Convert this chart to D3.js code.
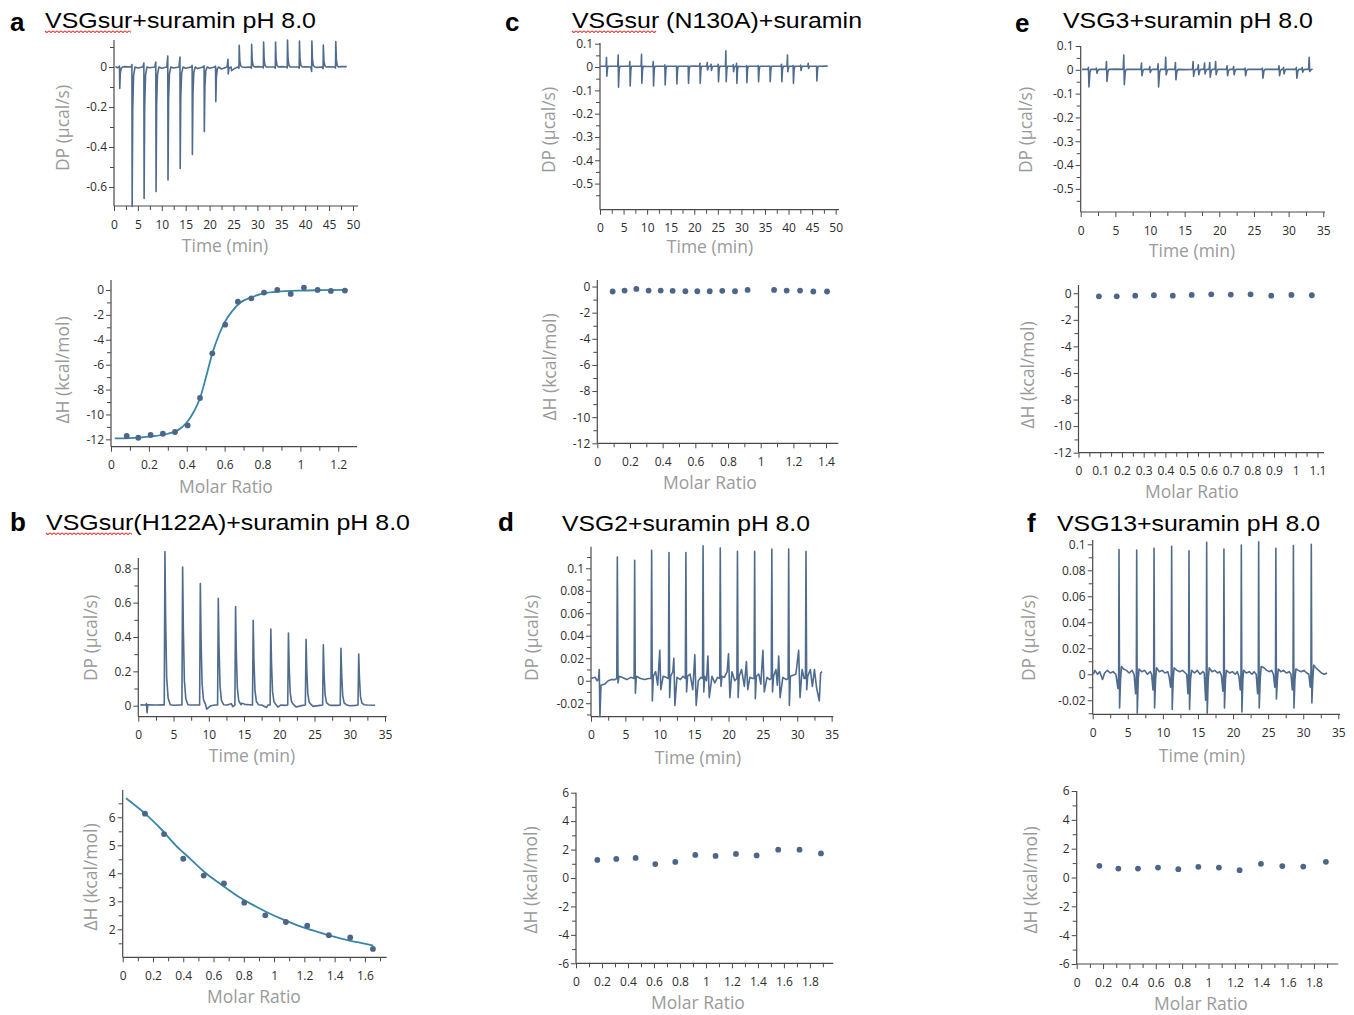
<!DOCTYPE html>
<html><head><meta charset="utf-8">
<script src="https://cdnjs.cloudflare.com/ajax/libs/d3/7.8.5/d3.min.js"></script>
<style>body{margin:0;background:#fff}svg{display:block}</style>
</head><body>
<script>
// ---------------- DATA ----------------
// Panel a : VSGsur + suramin
const aInjTime = [1.2, 3.8, 6.3, 8.8, 11.3, 13.85, 16.4, 18.9, 21.3, 23.9, 26.2, 28.8, 31.3, 33.8, 36.3, 38.8, 41.4, 43.8, 46.4];
const aInjPeak = [-0.107, -0.697, -0.657, -0.623, -0.565, -0.507, -0.437, -0.323, -0.173, -0.035, 0.108, 0.113, 0.125, 0.125, 0.135, 0.13, 0.13, 0.11, 0.127];
const aInjOver = [0.004, 0.012, 0.02, 0.025, 0.055, 0.05, 0.008, 0.006, 0.004, 0.038, -0.006, -0.006, -0.005, -0.006, -0.005, -0.006, -0.022, -0.008, -0.005];
const aBaseline = [[0.3,0.003],[0.7,-0.004],[2.2,0.002],[5,-0.005],[7.5,-0.004],[10,-0.006],[12.5,-0.005],[15,-0.006],[17.5,-0.008],[20,-0.006],[22.5,-0.01],[24.6,-0.018],[25.2,-0.008],[27.5,-0.002],[30,0.002],[32.5,0],[35,0.002],[37.5,0],[40,0.001],[42.5,-0.002],[45,0.001],[47.5,0.002],[48.7,0.002]];
const aRatio = [0.083, 0.144, 0.209, 0.274, 0.338, 0.405, 0.470, 0.535, 0.603, 0.670, 0.741, 0.808, 0.878, 0.949, 1.019, 1.091, 1.161, 1.235];
const aDH = [-11.73, -11.87, -11.65, -11.55, -11.41, -10.88, -8.68, -5.09, -2.79, -0.94, -0.67, -0.21, 0.0, -0.32, 0.19, 0.0, -0.08, -0.05];
const aFitRatio = [0.02, 0.1, 0.2, 0.3, 0.35, 0.4, 0.44, 0.47, 0.5, 0.535, 0.57, 0.6, 0.64, 0.68, 0.74, 0.8, 0.9, 1.0, 1.1, 1.25];
const aFitDH = [-11.92, -11.9, -11.78, -11.55, -11.3, -10.65, -9.7, -8.7, -7.1, -5.1, -3.6, -2.6, -1.7, -1.05, -0.6, -0.3, -0.12, -0.05, -0.02, 0];

// Panel b : VSGsur(H122A) + suramin
const bInjTime = [3.78, 6.29, 8.8, 11.35, 13.8, 16.3, 18.8, 21.3, 23.8, 26.25, 28.75, 31.27];
const bInjPeak = [0.897, 0.808, 0.711, 0.625, 0.577, 0.497, 0.447, 0.423, 0.386, 0.355, 0.334, 0.301];
const bBaseline = [[0.3,0.005],[1.0,0.004],[1.15,0.012],[1.25,-0.04],[1.35,0.006],[2.5,0.004],[3.4,0.005],[5,0.003],[5.8,0.004],[7.5,0.004],[8.3,0.004],[9.7,-0.02],[10.3,0.0],[10.9,0.004],[12.6,0.004],[13.2,0.012],[13.4,-0.005],[14.7,0.015],[15.1,0.008],[15.8,0.006],[17.5,0.004],[18.2,-0.01],[18.4,0.004],[19.8,-0.008],[20.2,0.004],[20.9,0.002],[22.4,-0.008],[23.3,0.002],[24.8,-0.004],[25.8,0.002],[27.3,0.002],[28.3,0.002],[30,0],[30.8,0.002],[32.5,0.004],[33.6,0.003]];
const bRatio = [0.147, 0.273, 0.40, 0.535, 0.669, 0.803, 0.942, 1.078, 1.219, 1.362, 1.503, 1.653];
const bDH = [6.13, 5.40, 4.52, 3.92, 3.64, 2.95, 2.50, 2.26, 2.13, 1.79, 1.71, 1.30];
const bFitRatio = [0.022, 0.15, 0.25, 0.35, 0.45, 0.55, 0.65, 0.75, 0.85, 0.95, 1.05, 1.15, 1.25, 1.35, 1.45, 1.55, 1.655];
const bFitDH = [6.68, 6.12, 5.6, 5.0, 4.5, 4.0, 3.6, 3.22, 2.9, 2.62, 2.37, 2.15, 1.97, 1.80, 1.66, 1.54, 1.42];

// Panel c : VSGsur (N130A) + suramin
const cInjTime = [1.41, 3.89, 6.36, 8.84, 11.32, 13.79, 16.27, 18.74, 21.22, 22.77, 23.6, 25.1, 26.73, 28.3, 29.0, 31.12, 33.6, 36.07, 38.54, 39.8, 41.0, 42.6, 44.2, 45.97];
const cInjUp = [0.041, 0.051, 0.023, 0.054, 0.023, 0.009, 0.004, 0.004, 0.016, 0.019, 0.012, 0.012, 0.07, 0.01, 0.016, 0.006, 0.006, 0.004, 0.012, 0.051, 0.006, 0.008, 0.016, 0.004];
const cInjDown = [-0.039, -0.087, -0.081, -0.07, -0.081, -0.077, -0.073, -0.07, -0.07, -0.013, -0.015, -0.063, -0.063, -0.02, -0.07, -0.067, -0.063, -0.063, -0.063, -0.02, -0.07, -0.015, -0.006, -0.06];
const cBaseline = [[0,0.003],[10,0.002],[20,0.004],[30,0.002],[40.6,0.003],[48.3,0.004]];
const cRatio = [0.094, 0.167, 0.239, 0.314, 0.388, 0.461, 0.539, 0.612, 0.688, 0.765, 0.843, 0.92, 1.082, 1.159, 1.241, 1.322, 1.406];
const cDH = [-0.38, -0.31, -0.18, -0.31, -0.31, -0.33, -0.36, -0.36, -0.36, -0.33, -0.36, -0.26, -0.26, -0.31, -0.31, -0.38, -0.38];

// Panel d : VSG2 + suramin
const dInjTime = [3.83, 6.35, 8.82, 11.34, 13.8, 16.3, 18.8, 21.3, 23.8, 26.3, 28.75, 31.27];
const dInjPeak = [0.110, 0.107, 0.116, 0.114, 0.114, 0.120, 0.118, 0.115, 0.115, 0.117, 0.117, 0.115];
const dInjDip = [-0.002, -0.011, -0.018, -0.015, -0.01, -0.01, -0.005, -0.015, -0.016, -0.01, -0.022, -0.008];
const dBaseline = [[0,0.002],[0.6,0.003],[0.9,0.0],[1.1,0.002],[1.2,0.01],[1.3,-0.032],[1.45,-0.004],[2,-0.003],[2.5,0.0],[3.0,0.001],[3.5,0.001],
  [4.5,0.003],[5.2,0.001],[5.8,0.003],[7.2,0.002],[7.8,0.001],[8.4,0.002],
  [9.4,0.008],[9.7,-0.004],[10.0,0.027],[10.15,-0.008],[10.5,0.004],[10.9,0.003],
  [11.9,0.008],[12.05,0.02],[12.2,-0.022],[12.5,0.003],[13.0,0.001],[13.4,0.004],
  [14.4,0.006],[14.8,-0.008],[15.1,0.023],[15.3,-0.022],[15.6,0.0],[16.0,0.003],
  [16.8,0.0],[17.0,0.022],[17.2,-0.015],[17.6,0.004],[18.0,-0.002],[18.4,0.003],
  [19.4,0.003],[19.8,0.008],[20.0,0.024],[20.2,-0.015],[20.5,0.008],[20.9,0.0],
  [21.9,0.01],[22.3,-0.005],[22.6,0.017],[22.8,-0.008],[23.1,0.003],[23.5,0.002],
  [24.4,0.006],[24.7,-0.003],[25.0,0.027],[25.2,-0.01],[25.6,0.003],[26.0,0.001],
  [26.9,0.01],[27.1,-0.004],[27.3,0.022],[27.5,-0.015],[27.9,0.003],[28.4,0.001],
  [29.5,0.005],[29.8,0.006],[30.2,0.027],[30.4,-0.015],[30.7,0.01],[31.0,0.002],
  [31.9,0.01],[32.2,-0.005],[32.5,0.01],[32.8,-0.006],[33.2,-0.018],[33.4,0.007],[33.6,0.008]];
const dRatio = [0.164, 0.31, 0.459, 0.61, 0.764, 0.918, 1.074, 1.231, 1.39, 1.556, 1.72, 1.885];
const dDH = [1.27, 1.34, 1.41, 0.98, 1.13, 1.62, 1.55, 1.69, 1.59, 1.99, 1.99, 1.73];

// Panel e : VSG3 + suramin
const eInjTime = [1.15, 2.3, 3.75, 6.25, 8.8, 10.0, 11.2, 12.3, 13.7, 16.25, 17.0, 17.9, 18.65, 19.5, 21.15, 22.1, 23.75, 26.25, 28.65, 29.3, 31.15, 32.0, 33.0];
const eInjUp = [0.01, 0.007, 0.035, 0.062, 0.028, 0.014, 0.025, 0.053, 0.031, 0.035, 0.021, 0.028, 0.031, 0.035, 0.017, 0.014, 0.007, 0.007, 0.017, 0.01, 0.01, 0.01, 0.053];
const eInjDown = [-0.072, -0.014, -0.049, -0.062, -0.025, -0.011, -0.072, -0.021, -0.042, -0.028, -0.021, -0.017, -0.031, -0.021, -0.025, -0.021, -0.025, -0.035, -0.025, -0.017, -0.035, -0.01, -0.007];
const eBaseline = [[0.2,0.002],[5,0.003],[15,0.001],[25,0.002],[33.46,0.003]];
const eRatio = [0.094, 0.176, 0.261, 0.347, 0.434, 0.521, 0.611, 0.701, 0.792, 0.887, 0.98, 1.074];
const eDH = [-0.23, -0.23, -0.18, -0.15, -0.18, -0.13, -0.08, -0.10, -0.08, -0.18, -0.13, -0.15];

// Panel f : VSG13 + suramin
const fInjTime = [3.75, 6.27, 8.74, 11.25, 13.72, 16.24, 18.7, 21.18, 23.65, 26.1, 28.6, 31.15];
const fInjPeak = [0.096, 0.0956, 0.097, 0.0985, 0.095, 0.1015, 0.0964, 0.0995, 0.102, 0.097, 0.099, 0.100];
const fInjDip = [-0.026, -0.030, -0.026, -0.027, -0.027, -0.030, -0.026, -0.029, -0.026, -0.019, -0.026, -0.022];
const fInjPre = [-0.011, -0.015, -0.012, -0.01, -0.015, -0.02, -0.013, -0.012, -0.015, -0.01, -0.012, -0.01];
const fBaseline = [[0.1,0.0],[0.3,0.003],[0.7,0.0],[1.0,0.002],[1.4,-0.004],[1.7,0.001],[2.1,0.003],[2.5,0.001],[2.9,0.002],[3.3,0.0],
  [4.1,0.006],[4.4,0.004],[4.8,0.003],[5.2,0.001],[5.6,0.003],[5.9,0.0],
  [6.6,0.004],[7.0,0.002],[7.4,0.003],[7.8,0.0],[8.2,0.002],[8.4,0.0],
  [9.1,0.005],[9.5,0.002],[9.9,0.003],[10.3,0.001],[10.7,0.002],[10.9,-0.002],
  [11.6,0.005],[12.0,0.003],[12.4,0.002],[12.8,0.003],[13.2,0.001],[13.4,0.0],
  [14.1,0.003],[14.5,0.001],[14.9,0.003],[15.3,0.0],[15.7,0.002],[15.9,0.001],
  [16.6,0.005],[17.0,0.002],[17.4,0.003],[17.8,0.001],[18.1,0.002],[18.35,-0.001],
  [19.05,0.003],[19.5,0.001],[19.9,0.002],[20.3,0.0],[20.6,0.002],[20.85,-0.002],
  [21.5,0.003],[21.9,0.001],[22.3,0.002],[22.7,0.0],[23.0,0.002],[23.3,0.0],
  [24.0,0.006],[24.4,0.005],[24.8,0.003],[25.2,0.002],[25.5,0.003],[25.75,0.0],
  [26.45,0.004],[26.8,0.002],[27.2,0.003],[27.6,0.001],[28.0,0.002],[28.25,0.0],
  [28.95,0.004],[29.3,0.003],[29.7,0.002],[30.1,0.003],[30.5,0.001],[30.8,0.0],
  [31.5,0.007],[31.8,0.005],[32.2,0.003],[32.6,0.001],[33.0,0.0],[33.4,0.001]];
const fRatio = [0.172, 0.316, 0.465, 0.617, 0.771, 0.923, 1.079, 1.236, 1.398, 1.56, 1.719, 1.891];
const fDH = [0.81, 0.62, 0.62, 0.69, 0.58, 0.74, 0.69, 0.51, 0.95, 0.79, 0.76, 1.09];

// tick label arrays
const timeTicks50 = [0, 5, 10, 15, 20, 25, 30, 35, 40, 45, 50];
const timeTicks35 = [0, 5, 10, 15, 20, 25, 30, 35];
const ratioTicks12 = [0, 0.2, 0.4, 0.6, 0.8, 1, 1.2];
const ratioTicks14 = [0, 0.2, 0.4, 0.6, 0.8, 1, 1.2, 1.4];
const ratioTicks16 = [0, 0.2, 0.4, 0.6, 0.8, 1, 1.2, 1.4, 1.6];
const ratioTicks18 = [0, 0.2, 0.4, 0.6, 0.8, 1, 1.2, 1.4, 1.6, 1.8];
const ratioTicks11 = [0, 0.1, 0.2, 0.3, 0.4, 0.5, 0.6, 0.7, 0.8, 0.9, 1, 1.1];
const dpTicksA = [-0.6, -0.4, -0.2, 0];
const dpTicksCE = [-0.5, -0.4, -0.3, -0.2, -0.1, 0, 0.1];
const dpTicksB = [0, 0.2, 0.4, 0.6, 0.8];
const dpTicksDF = [-0.02, 0, 0.02, 0.04, 0.06, 0.08, 0.1];
const dhTicksNeg = [-12, -10, -8, -6, -4, -2, 0];
const dhTicksB = [2, 3, 4, 5, 6];
const dhTicksSym = [-6, -4, -2, 0, 2, 4, 6];

// ---------------- DRAWING ----------------
const W = 1354, H = 1015;
const svg = d3.select('body').append('svg').attr('width', W).attr('height', H);
const TRACE = '#4f6b8e', DOT = '#4c6588', FIT = '#3a86a8';
const TICKC = '#2e2e2e', AXC = '#4a4a4a', LABC = '#9a9a9a';
const fmt = d => String(Math.round(d * 10000) / 10000);
const range = (a, b, s) => d3.range(a, b + s / 1000, s);

function panel(c) {
  const g = svg.append('g');
  const x = d3.scaleLinear().domain(c.xd).range([c.L, c.R]);
  const y = d3.scaleLinear().domain(c.yd).range([c.B, c.T]);
  g.append('g').attr('transform', `translate(0,${c.B})`)
    .call(d3.axisBottom(x).tickValues(c.xMinor).tickSize(4).tickFormat(''));
  g.append('g').attr('transform', `translate(${c.L},0)`)
    .call(d3.axisLeft(y).tickValues(c.yMinor).tickSize(4).tickFormat(''));
  g.append('g').attr('transform', `translate(0,${c.B})`)
    .call(d3.axisBottom(x).tickValues(c.xMajor).tickSize(5).tickPadding(9).tickFormat(fmt));
  g.append('g').attr('transform', `translate(${c.L},0)`)
    .call(d3.axisLeft(y).tickValues(c.yMajor).tickSize(5).tickPadding(2).tickFormat(fmt));
  g.selectAll('.domain').remove();
  g.selectAll('.tick line').attr('stroke', AXC).attr('stroke-width', 1);
  g.selectAll('.tick text').attr('fill', TICKC).style('font-family', '"Open Sans", sans-serif').style('font-size', '12px');
  g.append('line').attr('x1', c.L).attr('x2', c.R).attr('y1', c.B).attr('y2', c.B).attr('stroke', AXC).attr('stroke-width', 1.2);
  g.append('line').attr('x1', c.L).attr('x2', c.L).attr('y1', c.T).attr('y2', c.B).attr('stroke', AXC).attr('stroke-width', 1.2);
  g.append('text').attr('x', c.xl[0]).attr('y', c.xl[1]).attr('text-anchor', 'middle').attr('dominant-baseline', 'central')
    .attr('fill', LABC).style('font-family', '"Open Sans", sans-serif').style('font-size', '17.5px').text(c.xLabel);
  g.append('text').attr('transform', `translate(${c.yl[0]},${c.yl[1]}) rotate(-90)`).attr('text-anchor', 'middle').attr('dominant-baseline', 'central')
    .attr('fill', LABC).style('font-family', '"Open Sans", sans-serif').style('font-size', '17.5px').text(c.yLabel);
  return {g, x, y};
}

function drawTrace(p, pts) {
  pts.sort((a, b) => a[0] - b[0]);
  p.g.append('path').datum(pts).attr('fill', 'none').attr('stroke', TRACE).attr('stroke-width', 1.6).attr('stroke-linejoin', 'round')
    .attr('d', d3.line().x(d => p.x(d[0])).y(d => p.y(d[1])));
}
function drawDots(p, xs, ys) {
  p.g.selectAll(null).data(xs.map((v, i) => [v, ys[i]])).enter().append('circle')
    .attr('cx', d => p.x(d[0])).attr('cy', d => p.y(d[1])).attr('r', 2.9).attr('fill', DOT);
}
function drawFit(p, xs, ys) {
  p.g.append('path').datum(xs.map((v, i) => [v, ys[i]])).attr('fill', 'none').attr('stroke', FIT).attr('stroke-width', 1.8)
    .attr('d', d3.line().curve(d3.curveMonotoneX).x(d => p.x(d[0])).y(d => p.y(d[1])));
}
function title(letter, lx, ly, text, tx, ty, tw, squiggleW) {
  svg.append('text').attr('x', lx).attr('y', ly).style('font-family', '"Liberation Sans", Arial, sans-serif')
    .style('font-size', '26px').style('font-weight', 'bold').attr('fill', '#000').text(letter);
  svg.append('text').attr('x', tx).attr('y', ty).attr('textLength', tw).attr('lengthAdjust', 'spacingAndGlyphs')
    .style('font-family', '"Liberation Sans", Arial, sans-serif').style('font-size', '21.5px').attr('fill', '#000').text(text);
  if (squiggleW) {
    const pts = d3.range(0, squiggleW + 0.1, 2).map((v, i) => [tx + v, ty + 3 + (i % 2 ? 1.4 : 0)]);
    svg.append('path').datum(pts).attr('fill', 'none').attr('stroke', '#e53935').attr('stroke-width', 1.1)
      .attr('d', d3.line().curve(d3.curveMonotoneX));
  }
}

// shape builders (line vertices of each injection, built from the data arrays)
const spikeA = (t, pk, ov) => [[t - 0.25, 0], [t - 0.05, ov], [t, pk], [t + 0.12, pk * 0.3], [t + 0.3, pk * 0.06], [t + 0.6, 0]];
const spikeB = (t, pk) => [[t - 0.1, 0.004], [t, pk], [t + 0.1, pk * 0.55], [t + 0.25, pk * 0.18], [t + 0.45, pk * 0.05], [t + 0.75, 0.006]];
const spikeCE = (t, up, dn, base) => [[t - 0.12, base], [t - 0.03, up], [t + 0.04, dn], [t + 0.18, dn * 0.15], [t + 0.32, base]];
const spikeD = (t, pk, dp) => [[t - 0.08, 0.002], [t, pk], [t + 0.1, dp], [t + 0.25, 0.004]];
const spikeF = (t, pk, dp, pre) => [[t - 0.15, pre], [t - 0.05, 0.001], [t, pk], [t + 0.08, dp], [t + 0.22, -0.004]];

// ---- Panel a ----
title('a', 10, 31, 'VSGsur+suramin pH 8.0', 45, 28, 271, 86);
{
  const p = panel({L: 114, R: 358, T: 40, B: 206, xd: [0, 51.05], yd: [-0.695, 0.135],
    xMajor: timeTicks50, xMinor: range(2.5, 47.5, 5), yMajor: dpTicksA, yMinor: [-0.5, -0.3, -0.1, 0.1],
    xLabel: 'Time (min)', yLabel: 'DP (\u00b5cal/s)', xl: [225, 245], yl: [62, 128]});
  let pts = aBaseline.slice();
  aInjTime.forEach((t, i) => pts = pts.concat(spikeA(t, aInjPeak[i], aInjOver[i])));
  drawTrace(p, pts);
}
{
  const p = panel({L: 111, R: 357, T: 280, B: 446.7, xd: [0, 1.299], yd: [-12.59, 0.8],
    xMajor: ratioTicks12, xMinor: range(0.1, 1.1, 0.2), yMajor: dhTicksNeg, yMinor: range(-11, -1, 2),
    xLabel: 'Molar Ratio', yLabel: '\u0394H (kcal/mol)', xl: [226, 486], yl: [62, 370]});
  drawFit(p, aFitRatio, aFitDH);
  drawDots(p, aRatio, aDH);
}

// ---- Panel c ----
title('c', 505, 31, 'VSGsur (N130A)+suramin', 572, 28, 290, 85);
{
  const p = panel({L: 600, R: 839, T: 43, B: 209.7, xd: [0, 50.7], yd: [-0.612, 0.103],
    xMajor: timeTicks50, xMinor: range(2.5, 47.5, 5), yMajor: dpTicksCE, yMinor: range(-0.55, 0.05, 0.1),
    xLabel: 'Time (min)', yLabel: 'DP (\u00b5cal/s)', xl: [710, 246], yl: [548, 130]});
  let pts = cBaseline.slice();
  cInjTime.forEach((t, i) => pts = pts.concat(spikeCE(t, cInjUp[i], cInjDown[i], 0.003)));
  drawTrace(p, pts);
}
{
  const p = panel({L: 597.3, R: 838.3, T: 280, B: 443.3, xd: [0, 1.475], yd: [-12, 0.5],
    xMajor: ratioTicks14, xMinor: range(0.1, 1.3, 0.2), yMajor: dhTicksNeg, yMinor: range(-11, -1, 2),
    xLabel: 'Molar Ratio', yLabel: '\u0394H (kcal/mol)', xl: [710, 482], yl: [549, 367]});
  drawDots(p, cRatio, cDH);
}

// ---- Panel e ----
title('e', 1015, 32, 'VSG3+suramin pH 8.0', 1063, 28, 250, 0);
{
  const p = panel({L: 1080.7, R: 1325, T: 46, B: 212, xd: [0, 35.25], yd: [-0.597, 0.1],
    xMajor: timeTicks35, xMinor: range(2.5, 32.5, 5), yMajor: dpTicksCE, yMinor: range(-0.55, 0.05, 0.1),
    xLabel: 'Time (min)', yLabel: 'DP (\u00b5cal/s)', xl: [1192, 250], yl: [1025, 130]});
  let pts = eBaseline.slice();
  eInjTime.forEach((t, i) => pts = pts.concat(spikeCE(t, eInjUp[i], eInjDown[i], 0.002)));
  drawTrace(p, pts);
}
{
  const p = panel({L: 1078.5, R: 1324, T: 285, B: 452.7, xd: [0, 1.13], yd: [-12, 0.62],
    xMajor: ratioTicks11, xMinor: range(0.05, 1.05, 0.1), yMajor: dhTicksNeg, yMinor: range(-11, -1, 2),
    xLabel: 'Molar Ratio', yLabel: '\u0394H (kcal/mol)', xl: [1192, 491], yl: [1027, 375]});
  drawDots(p, eRatio, eDH);
}

// ---- Panel b ----
title('b', 10, 531, 'VSGsur(H122A)+suramin pH 8.0', 46, 530, 364, 87);
{
  const p = panel({L: 138.3, R: 386.7, T: 558, B: 716.7, xd: [0, 35.24], yd: [-0.064, 0.86],
    xMajor: timeTicks35, xMinor: range(2.5, 32.5, 5), yMajor: dpTicksB, yMinor: [0.1, 0.3, 0.5, 0.7],
    xLabel: 'Time (min)', yLabel: 'DP (\u00b5cal/s)', xl: [252, 755], yl: [90, 638]});
  let pts = bBaseline.slice();
  bInjTime.forEach((t, i) => pts = pts.concat(spikeB(t, bInjPeak[i])));
  drawTrace(p, pts);
}
{
  const p = panel({L: 122.7, R: 386.7, T: 790, B: 957.3, xd: [0, 1.744], yd: [1, 6.975],
    xMajor: ratioTicks16, xMinor: range(0.1, 1.7, 0.2), yMajor: dhTicksB, yMinor: range(1.5, 6.5, 1),
    xLabel: 'Molar Ratio', yLabel: '\u0394H (kcal/mol)', xl: [254, 996], yl: [90, 877]});
  drawFit(p, bFitRatio, bFitDH);
  drawDots(p, bRatio, bDH);
}

// ---- Panel d ----
title('d', 498, 531, 'VSG2+suramin pH 8.0', 562, 531, 248, 0);
{
  const p = panel({L: 591, R: 833.3, T: 546.7, B: 716.7, xd: [0, 35.24], yd: [-0.032, 0.1192],
    xMajor: timeTicks35, xMinor: range(2.5, 32.5, 5), yMajor: dpTicksDF, yMinor: range(-0.03, 0.11, 0.02),
    xLabel: 'Time (min)', yLabel: 'DP (\u00b5cal/s)', xl: [698, 757], yl: [531, 638]});
  let pts = dBaseline.slice();
  dInjTime.forEach((t, i) => pts = pts.concat(spikeD(t, dInjPeak[i], dInjDip[i])));
  drawTrace(p, pts);
}
{
  const p = panel({L: 576, R: 833.3, T: 792.7, B: 963.3, xd: [0, 1.98], yd: [-6, 6],
    xMajor: ratioTicks18, xMinor: range(0.1, 1.9, 0.2), yMajor: dhTicksSym, yMinor: range(-5, 5, 2),
    xLabel: 'Molar Ratio', yLabel: '\u0394H (kcal/mol)', xl: [698, 1002], yl: [530, 880]});
  drawDots(p, dRatio, dDH);
}

// ---- Panel f ----
title('f', 1027, 532, 'VSG13+suramin pH 8.0', 1057, 531, 263, 0);
{
  const p = panel({L: 1092.7, R: 1340, T: 540, B: 714.3, xd: [0, 35.24], yd: [-0.0308, 0.1033],
    xMajor: timeTicks35, xMinor: range(2.5, 32.5, 5), yMajor: dpTicksDF, yMinor: range(-0.03, 0.09, 0.02),
    xLabel: 'Time (min)', yLabel: 'DP (\u00b5cal/s)', xl: [1202, 755], yl: [1028, 638]});
  let pts = fBaseline.slice();
  fInjTime.forEach((t, i) => pts = pts.concat(spikeF(t, fInjPeak[i], fInjDip[i], fInjPre[i])));
  drawTrace(p, pts);
}
{
  const p = panel({L: 1076.7, R: 1338.3, T: 791, B: 964, xd: [0, 1.985], yd: [-6, 6],
    xMajor: ratioTicks18, xMinor: range(0.1, 1.9, 0.2), yMajor: dhTicksSym, yMinor: range(-5, 5, 2),
    xLabel: 'Molar Ratio', yLabel: '\u0394H (kcal/mol)', xl: [1201, 1003], yl: [1030, 880]});
  drawDots(p, fRatio, fDH);
}
</script>
</body></html>
